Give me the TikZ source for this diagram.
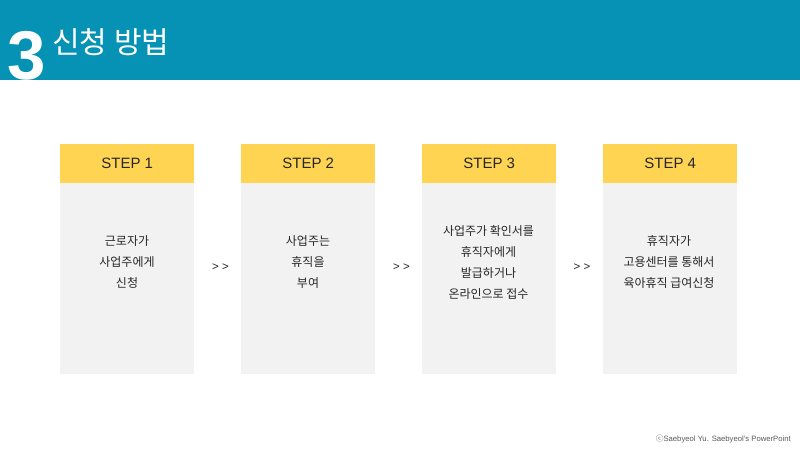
\documentclass[tikz,border=0pt]{standalone}
\usepackage{fontspec}
\setmainfont{Liberation Sans}
\newfontfamily\cjk{Noto Sans CJK KR}
\definecolor{band}{RGB}{5,146,181}
\definecolor{stepyellow}{RGB}{255,212,82}
\definecolor{bodygray}{RGB}{242,242,242}
\definecolor{txt}{RGB}{38,38,38}
\definecolor{foot}{RGB}{89,89,89}
\tikzset{
  stephead/.style={fill=stepyellow, draw=none, minimum width=134pt, minimum height=39pt, inner sep=0pt, anchor=north west, text=txt, font=\fontsize{15}{18}\selectfont},
  stepbody/.style={fill=bodygray, draw=none, minimum width=134pt, minimum height=191pt, inner sep=0pt, anchor=north west},
  steptext/.style={align=center, text=txt, inner sep=0pt, font=\cjk\fontsize{12}{21}\selectfont},
  sep/.style={text=txt, inner sep=0pt, font=\fontsize{11.5}{14}\selectfont}
}
\begin{document}
\begin{tikzpicture}[x=1pt,y=-1pt]
\useasboundingbox (0,0) rectangle (800,450);
\fill[white] (0,0) rectangle (800,450);
\fill[band] (0,0) rectangle (800,80);
\node[anchor=base west, inner sep=0pt, text=white, font=\fontsize{69}{69}\selectfont\bfseries] (num) at (7,79) {3};
\node[anchor=base west, inner sep=0pt, text=white, font=\cjk\fontsize{30}{32}\selectfont] (title) at (52,53) {신청 방법};

\foreach \i/\lbl in {0/STEP 1,1/STEP 2,2/STEP 3,3/STEP 4}{
  \node[stepbody] (b\i) at ({60+181*\i},183) {};
  \node[stephead] (h\i) at ({60+181*\i},144) {\lbl};
}
\node[steptext] (t0) at (127,262) {근로자가\\사업주에게\\신청};
\node[steptext] (t1) at (308,262) {사업주는\\휴직을\\부여};
\node[steptext] (t2) at (488.5,262) {사업주가 확인서를\\휴직자에게\\발급하거나\\온라인으로 접수};
\node[steptext] (t3) at (669,262) {휴직자가\\고용센터를 통해서\\육아휴직 급여신청};

\node[sep] (s0) at (220.5,267.5) {> >};
\node[sep] (s1) at (401.5,267.5) {> >};
\node[sep] (s2) at (582,267.5) {> >};

\node[anchor=east, inner sep=0pt, text=foot, font=\fontsize{7.7}{9}\selectfont] (footer) at (791,439) {{\cjk ⓒ}Saebyeol Yu. Saebyeol's PowerPoint};
\end{tikzpicture}
\end{document}
